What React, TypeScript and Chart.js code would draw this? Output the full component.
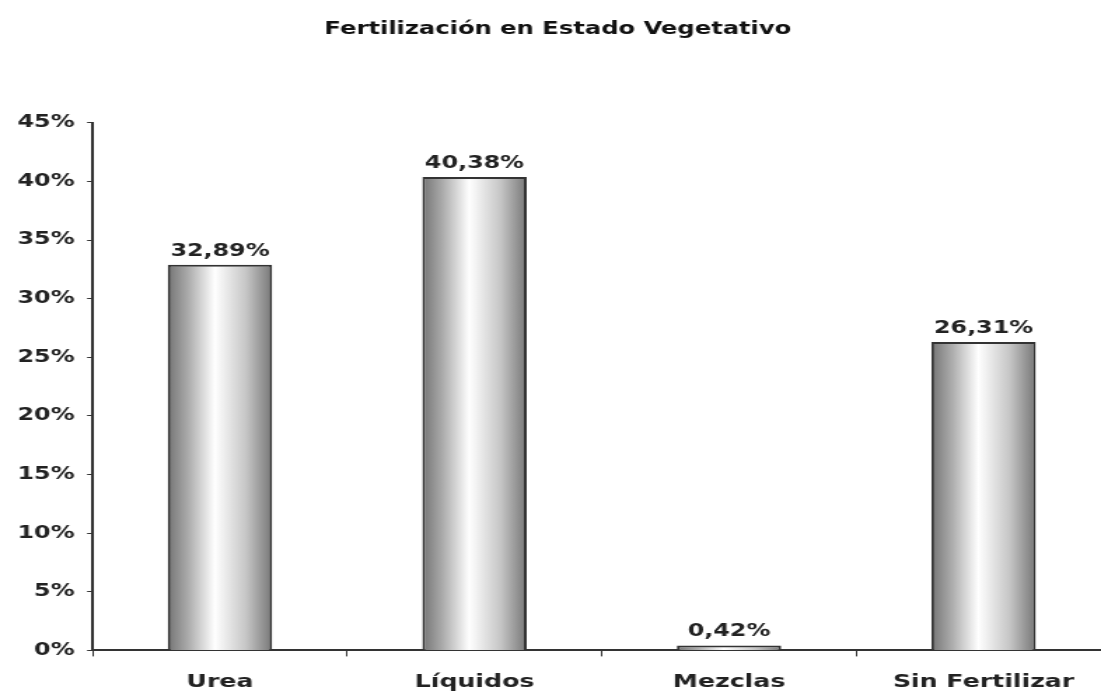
import React, { useEffect, useRef } from "react";
import { Chart, registerables } from "chart.js";

Chart.register(...registerables);

const categories = ["Urea", "Líquidos", "Mezclas", "Sin Fertilizar"];
const values = [32.89, 40.38, 0.42, 26.31];
const titleText = "Fertilización en Estado Vegetativo";
const FONT = "'DejaVu Sans', Verdana, sans-serif";

// the reference picture is horizontally stretched; draw narrower and stretch.
// Its plot area runs slightly past the right edge, so the canvas is a bit wider
// than the visible frame and is clipped.
const INNER_W = 793;
const H = 695;
const STRETCH = 1101 / 786;
const BAR_PCT = 0.41;

const fmt = (v: number) => v.toFixed(2).replace(".", ",") + "%";

const barFill = (c: any) => {
  const chart = c.chart;
  const xs = chart.scales && chart.scales.x;
  if (!xs || !chart.chartArea || xs.width === undefined) return "#cccccc";
  const cx = xs.getPixelForValue(c.dataIndex);
  const w = (xs.width / categories.length) * BAR_PCT;
  const g = chart.ctx.createLinearGradient(cx - w / 2, 0, cx + w / 2, 0);
  g.addColorStop(0, "#747474");
  g.addColorStop(0.2, "#adadad");
  g.addColorStop(0.45, "#ffffff");
  g.addColorStop(0.75, "#c6c6c6");
  g.addColorStop(1, "#777777");
  return g;
};

const labelPlugin = {
  id: "valueLabels",
  afterDatasetsDraw(chart: any) {
    const ctx = chart.ctx as CanvasRenderingContext2D;
    const meta = chart.getDatasetMeta(0);
    ctx.save();
    ctx.font = `bold 17px ${FONT}`;
    ctx.fillStyle = "#222";
    ctx.textAlign = "center";
    ctx.textBaseline = "alphabetic";
    meta.data.forEach((el: any, i: number) => {
      ctx.fillText(fmt(values[i]), el.x, el.y - 9);
    });
    ctx.restore();
  },
};

export default function App() {
  const ref = useRef<HTMLCanvasElement>(null);
  useEffect(() => {
    if (!ref.current) return;
    const chart = new Chart(ref.current, {
      type: "bar",
      data: {
        labels: categories,
        datasets: [
          {
            data: values,
            backgroundColor: barFill,
            borderColor: "#333333",
            borderWidth: 2,
            borderSkipped: "bottom",
            barPercentage: BAR_PCT,
            categoryPercentage: 1,
          },
        ],
      },
      options: {
        animation: false,
        responsive: false,
        layout: { padding: { top: 0, right: 0, bottom: -13, left: 3.5 } },
        plugins: {
          legend: { display: false },
          tooltip: { enabled: false },
          title: {
            display: true,
            text: titleText,
            color: "#111",
            font: { family: FONT, size: 17.3, weight: "bold" },
            padding: { top: 19, bottom: 83 },
          },
        },
        scales: {
          y: {
            min: 0,
            max: 45,
            ticks: {
              stepSize: 5,
              callback: (v: any) => v + "%",
              color: "#222",
              font: { family: FONT, size: 17, weight: "bold" },
              padding: 9,
            },
            grid: {
              drawOnChartArea: false,
              drawTicks: true,
              tickLength: 4,
              color: "#333",
            },
            border: { color: "#333", width: 2 },
          },
          x: {
            offset: true,
            ticks: {
              color: "#222",
              font: { family: FONT, size: 18, weight: "bold" },
              padding: 15,
            },
            grid: {
              offset: true,
              drawOnChartArea: false,
              drawTicks: true,
              tickLength: 6,
              color: "#333",
            },
            border: { color: "#333", width: 2 },
          },
        },
      },
      plugins: [labelPlugin],
    });
    return () => chart.destroy();
  }, []);
  return (
    <div style={{ position: "fixed", left: 0, top: 0, width: 1101, height: H, background: "#fff", overflow: "hidden" }}>
      <div style={{ width: INNER_W, height: H, transform: `scaleX(${STRETCH})`, transformOrigin: "0 0" }}>
        <canvas ref={ref} width={INNER_W} height={H} style={{ display: "block" }} />
      </div>
    </div>
  );
}
